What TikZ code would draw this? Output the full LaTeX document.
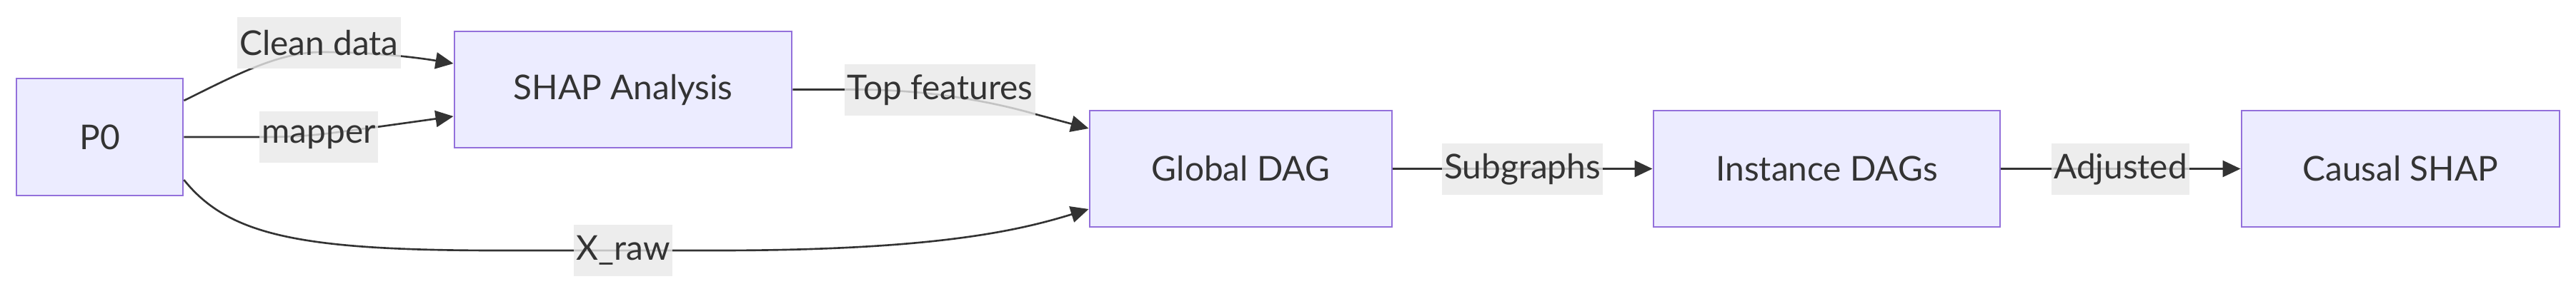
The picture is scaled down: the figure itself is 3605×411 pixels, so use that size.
\documentclass[tikz,border=0pt]{standalone}
\usepackage{fontspec}
\setmainfont{Lato}
\usetikzlibrary{arrows.meta,calc}
\definecolor{nodefill}{HTML}{ECECFF}
\definecolor{nodedraw}{HTML}{9370DB}
\definecolor{edgecol}{HTML}{333333}
\definecolor{lblfill}{HTML}{E8E8E8}
\definecolor{txtcol}{HTML}{333333}
\begin{document}
\begin{tikzpicture}[x=0.01cm,y=-0.01cm,
  box/.style={draw=nodedraw, fill=nodefill, line width=0.75pt, inner sep=0pt,
    text=txtcol, font=\fontsize{13.6pt}{16pt}\selectfont, minimum height=1.63cm},
  lbl/.style={fill=lblfill, fill opacity=0.8, text opacity=1, text=txtcol,
    inner xsep=1pt, inner ysep=0pt, minimum height=0.72cm,
    font=\fontsize{13.6pt}{16pt}\selectfont},
  edge/.style={draw=edgecol, line width=0.75pt,
    -{Triangle[length=0.25cm,width=0.23cm]}}]
\useasboundingbox (0,0) rectangle (3605,411);
% nodes
\node[box, minimum width=2.33cm, minimum height=1.64cm] (p0) at (139.5,192) {P0};
\node[box, minimum width=4.72cm] (shap) at (872,125.5) {SHAP Analysis};
\node[box, minimum width=4.23cm] (gdag) at (1736.5,236.5) {Global DAG};
\node[box, minimum width=4.85cm] (idag) at (2556.5,236.5) {Instance DAGs};
\node[box, minimum width=4.45cm] (cshap) at (3359.5,236.5) {Causal SHAP};
% edges
\draw[edge] ($(p0.east)+(0,-51)$) .. controls (330,105) and (390,73) .. (450,73)
  .. controls (520,73) and (580,80) .. ($(shap.west)+(0,-36.5)$);
\draw[edge] (p0.east) -- (370,192) .. controls (440,192) and (470,185) .. (527,178)
  -- ($(shap.west)+(0,37.5)$);
\draw[edge] ($(p0.east)+(0,60)$) .. controls (320,330) and (420,351) .. (700,351)
  -- (1000,351) .. controls (1300,351) and (1420,325) .. ($(gdag.west)+(0,56.5)$);
\draw[edge] (shap.east) -- (1200,125.5) .. controls (1290,125.5) and (1380,140) .. (1449,160)
  -- ($(gdag.west)+(0,-56.5)$);
\draw[edge] (gdag.east) -- (idag.west);
\draw[edge] (idag.east) -- (cshap.west);
% labels
\node[lbl] (l1) at (446.5,60) {Clean data};
\node[lbl] (l2) at (446,192) {mapper};
\node[lbl] (l3) at (872,351) {X\_raw};
\node[lbl] (l4) at (1315.5,126) {Top features};
\node[lbl] (l5) at (2130.5,237) {Subgraphs};
\node[lbl] (l6) at (2967.5,237) {Adjusted};
\end{tikzpicture}
\end{document}
